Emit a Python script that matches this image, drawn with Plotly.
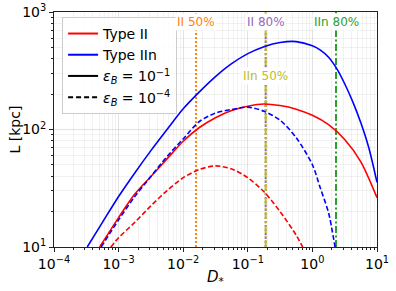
import math
import plotly.graph_objects as go

# ---- data ----
D_IIn_hi = [3.27e-4, 5.62e-4, 1e-3, 1.78e-3, 3.16e-3, 5.62e-3, 0.01, 0.0178, 0.0316, 0.0562, 0.1,
            0.178, 0.316, 0.562, 1.0, 1.33, 1.78, 2.37, 3.16, 4.22, 5.62, 7.50, 10.0]
L_IIn_hi = [10.0, 16.2, 26.9, 42.7, 66.1, 100, 150, 209, 282, 363, 442,
            507, 550, 560, 515, 473, 412, 331, 245, 172, 114, 69.2, 35.5]

D_II_hi = [5.09e-4, 1e-3, 1.78e-3, 3.16e-3, 5.62e-3, 0.01, 0.0178, 0.0316, 0.0562, 0.1,
           0.178, 0.316, 0.562, 1.0, 1.78, 3.16, 5.62, 10.0]
L_II_hi = [10.0, 17.8, 28.2, 39.8, 56.2, 79.4, 104, 126, 145, 158,
           165, 160, 149, 132, 110, 82.2, 53.1, 26.3]

D_IIn_lo = [5.37e-4, 1e-3, 1.78e-3, 3.16e-3, 5.62e-3, 0.01, 0.0178, 0.0316, 0.0562, 0.1,
            0.178, 0.316, 0.562, 1.0, 1.33, 1.78, 2.24]
L_IIn_lo = [10.0, 17.0, 26.9, 39.8, 58.9, 83.2, 117, 138, 148, 155,
            143, 120, 85.1, 50.1, 31.6, 19.5, 10.0]

D_II_lo = [7.59e-4, 1e-3, 1.78e-3, 3.16e-3, 5.62e-3, 0.01, 0.0178, 0.0316, 0.0562, 0.1,
           0.178, 0.316, 0.562, 0.708]
L_II_lo = [10.0, 12.0, 16.2, 22.4, 30.2, 38.9, 45.7, 49.0, 46.2, 38.9,
           29.5, 20.0, 12.6, 10.0]

thr_names = ["II 50%", "II 80%", "IIn 50%", "IIn 80%"]
thr_D = [0.0158, 0.189, 0.189, 2.32]
thr_colors = ["#ff7f0e", "#9467bd", "#bcbd22", "#2ca02c"]
thr_dash = ["2px,2px", "2px,2px", "7px,2.5px,2px,2.5px", "7px,2.5px,2px,2.5px"]
thr_label_L = [820, 820, 286, 820]

xtick_vals = [1e-4, 1e-3, 1e-2, 1e-1, 1, 10]
xtick_text = ["10<sup>−4</sup>", "10<sup>−3</sup>", "10<sup>−2</sup>", "10<sup>−1</sup>", "10<sup>0</sup>", "10<sup>1</sup>"]
ytick_vals = [10, 100, 1000]
ytick_text = ["10<sup>1</sup>", "10<sup>2</sup>", "10<sup>3</sup>"]

FONT = "DejaVu Sans"
fig = go.Figure()

# threshold lines
for n, d, c, ds in zip(thr_names, thr_D, thr_colors, thr_dash):
    fig.add_trace(go.Scatter(x=[d, d], y=[10, 1000], mode="lines",
                             line=dict(color=c, width=2, dash=ds),
                             showlegend=False, hoverinfo="skip"))

DASH = "5px,2.5px"
# curves
fig.add_trace(go.Scatter(x=D_II_hi, y=L_II_hi, mode="lines", line=dict(color="red", width=1.6, shape="spline", smoothing=0.8), showlegend=False))
fig.add_trace(go.Scatter(x=D_IIn_hi, y=L_IIn_hi, mode="lines", line=dict(color="blue", width=1.6, shape="spline", smoothing=0.8), showlegend=False))
fig.add_trace(go.Scatter(x=D_II_lo, y=L_II_lo, mode="lines", line=dict(color="red", width=1.6, dash=DASH, shape="spline", smoothing=0.8), showlegend=False))
fig.add_trace(go.Scatter(x=D_IIn_lo, y=L_IIn_lo, mode="lines", line=dict(color="blue", width=1.6, dash=DASH, shape="spline", smoothing=0.8), showlegend=False))

# legend entries
fig.add_trace(go.Scatter(x=[None], y=[None], mode="lines", line=dict(color="red", width=2), name="Type II"))
fig.add_trace(go.Scatter(x=[None], y=[None], mode="lines", line=dict(color="blue", width=2), name="Type IIn"))
fig.add_trace(go.Scatter(x=[None], y=[None], mode="lines", line=dict(color="black", width=2),
                         name="<i>ε</i><sub><i>B</i></sub> = 10<sup>−1</sup>"))
fig.add_trace(go.Scatter(x=[None], y=[None], mode="lines", line=dict(color="black", width=2, dash="5px,3px"),
                         name="<i>ε</i><sub><i>B</i></sub> = 10<sup>−4</sup>"))

# threshold labels (annotation coords on log axes are log10 values)
for n, d, c, yl in zip(thr_names, thr_D, thr_colors, thr_label_L):
    fig.add_annotation(x=math.log10(d), y=math.log10(yl), xref="x", yref="y", text=n, showarrow=False,
                       font=dict(family=FONT, size=12, color=c), bgcolor="white",
                       xanchor="center", yanchor="middle", borderpad=1)

# axis titles
fig.add_annotation(x=0.5, y=0, xref="paper", yref="paper", text="<i>D</i><sub>*</sub>", showarrow=False,
                   font=dict(family=FONT, size=15, color="black"), xanchor="center", yanchor="middle", yshift=-30)
fig.add_annotation(x=0, y=0.5, xref="paper", yref="paper", text="L [kpc]", showarrow=False, textangle=-90,
                   font=dict(family=FONT, size=14, color="black"), xanchor="center", yanchor="middle", xshift=-40)

x_minor = [m * 10.0 ** k for k in range(-4, 1) for m in range(2, 10)]
y_minor = [m * 10.0 ** k for k in range(1, 3) for m in range(2, 10)]

def axis_common(minor_vals):
    return dict(type="log", showline=True, linecolor="#222", linewidth=1, mirror=True,
                ticks="outside", ticklen=4, tickcolor="#222", automargin=False,
                ticklabeloverflow="allow",
                showgrid=True, gridcolor="rgba(0,0,0,0.11)", gridwidth=1,
                zeroline=False,
                tickfont=dict(family=FONT, size=14, color="black"),
                minor=dict(tickmode="array", tickvals=minor_vals, ticks="outside", ticklen=2,
                           tickcolor="#222", showgrid=True,
                           gridcolor="rgba(0,0,0,0.05)", gridwidth=1))

fig.update_xaxes(**axis_common(x_minor), range=[-4, 1], tickmode="array", tickvals=xtick_vals, ticktext=xtick_text)
fig.update_yaxes(**axis_common(y_minor), range=[1, 3], tickmode="array", tickvals=ytick_vals, ticktext=ytick_text)

fig.update_layout(
    width=396, height=291,
    margin=dict(l=54, r=19, t=12, b=44),
    paper_bgcolor="white", plot_bgcolor="white",
    font=dict(family=FONT, size=14, color="black"),
    legend=dict(x=0.025, y=0.979, xanchor="left", yanchor="top",
                bgcolor="rgba(255,255,255,0.85)", bordercolor="#cccccc", borderwidth=1,
                font=dict(family=FONT, size=14), itemwidth=30, tracegroupgap=0),
)

# remove the browser's default 8px body margin so the figure sits at the page origin
fig.write_html("out.html", config={"displayModeBar": False},
               post_script="document.body.style.margin='0';document.body.style.overflow='hidden';")
